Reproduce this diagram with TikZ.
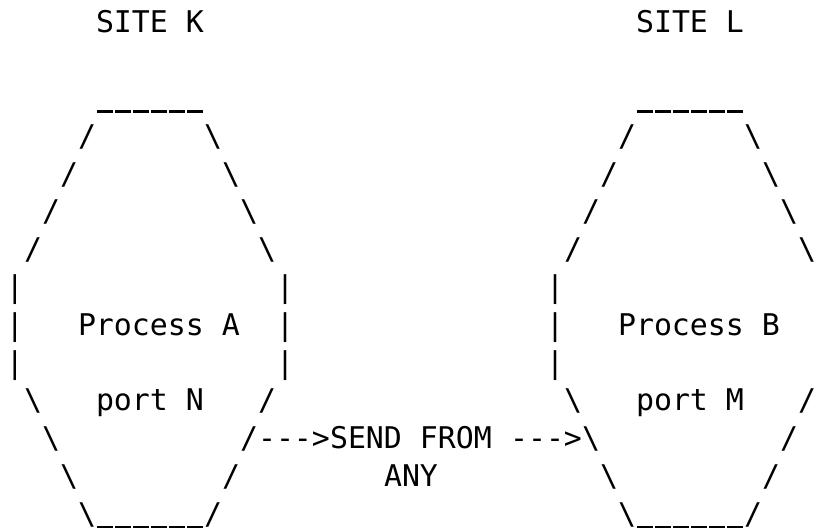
\documentclass[tikz,border=0pt]{standalone}
\usepackage{fontspec}
\setmonofont{DejaVu Sans Mono}
\begin{document}
\begin{tikzpicture}[x=0.75pt,y=-0.75pt,
  g/.style={font=\ttfamily\fontsize{22.42pt}{28pt}\selectfont, anchor=base west, inner sep=0pt, outer sep=0pt, text=black},
  uline/.style={draw=black, line width=1.95pt, dash pattern=on 11.6pt off 1.9pt}]
\fill[white] (0,0) rectangle (820,530);
\useasboundingbox (0,0) rectangle (820,530);
% columns: x = 6 + 18*c ; rows: y = 33 + 37.8*r
% Row 0: site titles
\node[g] (sitek) at (96,33) {SITE K};
\node[g] (sitel) at (636,33) {SITE L};
% Row 2: tops (underscore runs)
\coordinate (ktopA) at (97.3,111.3);
\coordinate (ktopB) at (202.8,111.3);
\coordinate (ltopA) at (637.3,111.3);
\coordinate (ltopB) at (742.8,111.3);
\draw[uline] (ktopA) -- (ktopB);
\draw[uline] (ltopA) -- (ltopB);
% Row 3
\node[g] (kl3) at (78,146.4) {/};
\node[g] (kr3) at (204,146.4) {\textbackslash};
\node[g] (ll3) at (618,146.4) {/};
\node[g] (lr3) at (744,146.4) {\textbackslash};
% Row 4
\node[g] (kl4) at (60,184.2) {/};
\node[g] (kr4) at (222,184.2) {\textbackslash};
\node[g] (ll4) at (600,184.2) {/};
\node[g] (lr4) at (762,184.2) {\textbackslash};
% Row 5
\node[g] (kl5) at (42,222) {/};
\node[g] (kr5) at (240,222) {\textbackslash};
\node[g] (ll5) at (582,222) {/};
\node[g] (lr5) at (780,222) {\textbackslash};
% Row 6
\node[g] (kl6) at (24,259.8) {/};
\node[g] (kr6) at (258,259.8) {\textbackslash};
\node[g] (ll6) at (564,259.8) {/};
\node[g] (lr6) at (798,259.8) {\textbackslash};
% Row 7
\node[g] (kl7) at (6,297.6) {|};
\node[g] (kr7) at (276,297.6) {|};
\node[g] (ll7) at (546,297.6) {|};
% Row 8
\node[g] (kl8) at (6,335.4) {|};
\node[g] (procA) at (78,335.4) {Process A};
\node[g] (kr8) at (276,335.4) {|};
\node[g] (ll8) at (546,335.4) {|};
\node[g] (procB) at (618,335.4) {Process B};
% Row 9
\node[g] (kl9) at (6,373.2) {|};
\node[g] (kr9) at (276,373.2) {|};
\node[g] (ll9) at (546,373.2) {|};
% Row 10
\node[g] (kl10) at (24,411) {\textbackslash};
\node[g] (portN) at (96,411) {port N};
\node[g] (kr10) at (258,411) {/};
\node[g] (ll10) at (564,411) {\textbackslash};
\node[g] (portM) at (636,411) {port M};
\node[g] (lr10) at (798,411) {/};
% Row 11
\node[g] (kl11) at (42,448.8) {\textbackslash};
\node[g] (kr11) at (240,448.8) {/};
\node[g] (arr1) at (258,448.8) {-{}-{}->};
\node[g] (send) at (330,448.8) {SEND FROM};
\node[g] (arr2) at (510,448.8) {-{}-{}->};
\node[g] (ll11) at (582,448.8) {\textbackslash};
\node[g] (lr11) at (780,448.8) {/};
% Row 12
\node[g] (kl12) at (60,486.6) {\textbackslash};
\node[g] (kr12) at (222,486.6) {/};
\node[g] (any) at (384,486.6) {ANY};
\node[g] (ll12) at (600,486.6) {\textbackslash};
\node[g] (lr12) at (762,486.6) {/};
% Row 13
\node[g] (kl13) at (78,524.4) {\textbackslash};
\coordinate (kbotA) at (97.3,526.8);
\coordinate (kbotB) at (202.8,526.8);
\draw[uline] (kbotA) -- (kbotB);
\node[g] (kr13) at (204,524.4) {/};
\node[g] (ll13) at (618,524.4) {\textbackslash};
\coordinate (lbotA) at (637.3,526.8);
\coordinate (lbotB) at (742.8,526.8);
\draw[uline] (lbotA) -- (lbotB);
\node[g] (lr13) at (744,524.4) {/};
\end{tikzpicture}
\end{document}
